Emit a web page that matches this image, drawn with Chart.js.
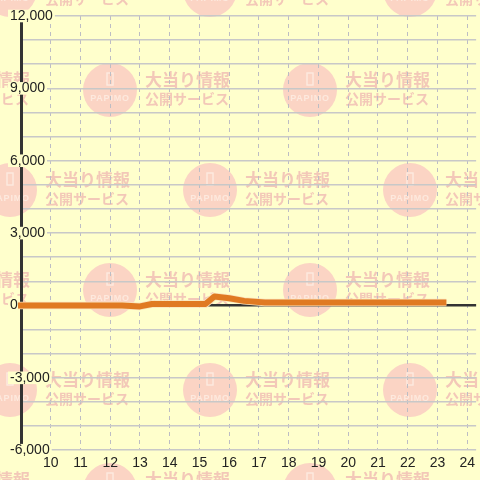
<!DOCTYPE html>
<html>
<head>
<meta charset="utf-8">
<script src="https://cdn.jsdelivr.net/npm/chart.js@4.4.1/dist/chart.umd.min.js"></script>
<style>
  html, body { margin: 0; padding: 0; background: #ffffcc; }
  #wrap { width: 480px; height: 480px; }
</style>
</head>
<body>
<div id="wrap"><canvas id="chart"></canvas></div>
<script>
// hour of day -> running balance
const HOURS  = [8.9, 12.4, 13.0, 13.4, 15.2, 15.5, 16.0, 16.5, 17.2, 23.3];
const VALUES = [0,   0,    -40,  60,   60,   370,  300,  190,  120,  125];

const X_TICKS = [10, 11, 12, 13, 14, 15, 16, 17, 18, 19, 20, 21, 22, 23, 24];
const X_MIN = 9, X_MAX = 24.3;
const Y_MIN = -6000, Y_MAX = 12000, Y_STEP = 1000, Y_LABEL_STEP = 3000;

const BG = '#ffffcc';
const ORANGE = '#e07a22';
const AXIS = '#333';

// PAPIMO watermark tiled in the background
const watermark = {
  id: 'watermark',
  beforeDraw(chart) {
    const { ctx, width, height } = chart;
    ctx.save();
    ctx.fillStyle = BG;
    ctx.fillRect(0, 0, width, height);
    for (let row = 0; row < 6; row++) {
      const cy = row * 100 - 10;
      const xs = row % 2 === 0 ? [10, 210, 410] : [-90, 110, 310];
      xs.forEach(cx => {
        ctx.fillStyle = '#fbd4c4';
        ctx.beginPath();
        ctx.arc(cx, cy, 27, 0, Math.PI * 2);
        ctx.fill();
        ctx.strokeStyle = '#fde9de';
        ctx.lineWidth = 1.5;
        ctx.strokeRect(cx - 3, cy - 17, 6, 12);
        ctx.fillStyle = '#fde9de';
        ctx.font = 'bold 9px "Liberation Sans", sans-serif';
        ctx.textAlign = 'center';
        ctx.textBaseline = 'middle';
        ctx.letterSpacing = '0.8px';
        ctx.fillText('PAPIMO', cx, cy + 9);
        ctx.letterSpacing = '0px';
        ctx.fillStyle = '#f3c8b8';
        ctx.textAlign = 'left';
        ctx.font = 'bold 17px "Noto Sans CJK JP", sans-serif';
        ctx.fillText('大当り情報', cx + 35, cy - 10);
        ctx.font = 'bold 14px "Noto Sans CJK JP", sans-serif';
        ctx.fillText('公開サービス', cx + 35, cy + 9);
      });
    }
    ctx.restore();
  }
};

const points = HOURS.map((h, i) => ({ x: h, y: VALUES[i] }));

new Chart(document.getElementById('chart').getContext('2d'), {
  type: 'line',
  data: {
    datasets: [
      {
        data: points,
        borderColor: ORANGE,
        borderWidth: 6,
        borderJoinStyle: 'round',
        pointRadius: 0,
        tension: 0,
        clip: false,
        order: 1,
      },
      {
        // thin pale edge round the line
        data: points,
        borderColor: '#fae3bc',
        borderWidth: 7.5,
        borderJoinStyle: 'round',
        pointRadius: 0,
        tension: 0,
        clip: false,
        order: 2,
      },
    ]
  },
  plugins: [watermark],
  options: {
    responsive: true,
    maintainAspectRatio: false,
    animation: false,
    devicePixelRatio: 1,
    layout: { padding: { left: 5, top: 16, right: 0, bottom: 3 } },
    plugins: {
      legend: { display: false },
      tooltip: { enabled: false },
    },
    scales: {
      x: {
        type: 'linear',
        min: X_MIN,
        max: X_MAX,
        afterBuildTicks: scale => { scale.ticks = X_TICKS.map(v => ({ value: v })); },
        grid: { color: '#bdbdc4', lineWidth: 1, drawTicks: false },
        border: { display: false, dash: [4, 4] },
        ticks: {
          autoSkip: false,
          maxRotation: 0,
          padding: 5,
          color: '#222',
          font: { family: '"Liberation Sans", Arial, sans-serif', size: 14 },
        },
      },
      y: {
        min: Y_MIN,
        max: Y_MAX,
        afterFit: scale => { scale.width = 16; },
        grid: {
          color: c => c.tick && c.tick.value === 0 ? AXIS : '#c8c8c8',
          lineWidth: c => c.tick && c.tick.value === 0 ? 2.5 : 1.5,
          drawTicks: false,
        },
        border: { display: true, color: AXIS, width: 3 },
        ticks: {
          stepSize: Y_STEP,
          mirror: true,
          crossAlign: 'near',
          padding: -11,
          color: '#222',
          font: { family: '"Liberation Sans", Arial, sans-serif', size: 14, lineHeight: 0.9 },
          showLabelBackdrop: true,
          backdropColor: c => c.tick && c.tick.value % Y_LABEL_STEP === 0 ? BG : 'rgba(0,0,0,0)',
          backdropPadding: { x: 2, y: 0 },
          callback: v => v % Y_LABEL_STEP === 0 ? v.toLocaleString('en-US') : '',
        },
      },
    },
  },
});
</script>
</body>
</html>
